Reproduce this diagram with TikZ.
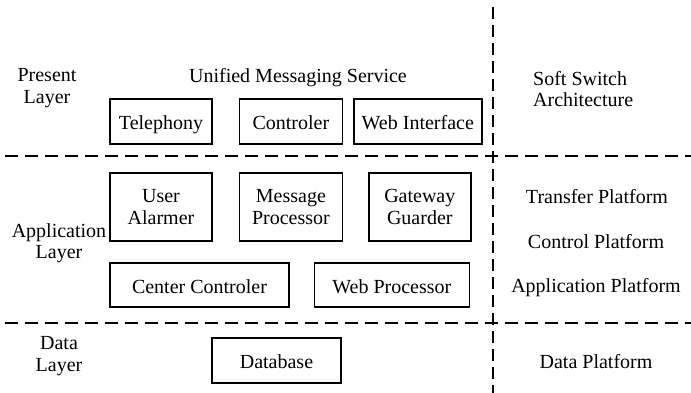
\documentclass[tikz,border=0pt]{standalone}
\usepackage{fontspec}
\setmainfont{Liberation Serif}
\usetikzlibrary{positioning}

\begin{document}
\begin{tikzpicture}[x=1pt,y=-1pt,font=\fontsize{20}{21.5}\selectfont]
 \tikzstyle{every node}=[align=center,inner sep=0pt]
 \tikzstyle{module}=[draw,line width=1.4pt,minimum height=45pt]
 \tikzstyle{oneline}=[text height=18pt,text depth=2pt]
 \tikzstyle{divider}=[line width=1.7pt,dash pattern=on 13pt off 7pt]
\useasboundingbox (0,0) rectangle (691,393);

% layer borders
\coordinate (h1a) at (5,156);   \coordinate (h1b) at (691,156);
\coordinate (h2a) at (5,323);   \coordinate (h2b) at (691,323);
\coordinate (vt) at (493,7);    \coordinate (vb) at (493,393);
\draw[divider] (h1a) -- (h1b);
\draw[divider] (h2a) -- (h2b);
\draw[divider,dash pattern=on 12pt off 6pt] (vt) -- (vb);

% present layer
\node (pl) at (47,88) {Present\\Layer};
\node (ums) at (298,78) {Unified Messaging Service};
\node[module,oneline,minimum width=102pt] (tel) at (161,121.5) {Telephony};
\node[module,oneline,minimum width=103pt] (ctl) [right=26pt of tel] {Controler};
\node[module,oneline,minimum width=128pt] (wif) [right=10pt of ctl] {Web Interface};
\node[anchor=west,align=left] (ssa) at (533,89) {Soft Switch\\Architecture};

% application layer
\node (al) at (59,243) {Application\\Layer};
\node[module,minimum width=102pt,minimum height=68pt] (usr) at (161,207) {User\\Alarmer};
\node[module,minimum width=103pt,minimum height=68pt] (msg) [right=26pt of usr] {Message\\Processor};
\node[module,minimum width=102pt,minimum height=68pt] (gw) [right=25pt of msg] {Gateway\\Guarder};
\node[module,oneline,minimum width=179pt,minimum height=44pt] (cc) at (199.5,285) {Center Controler};
\node[module,oneline,minimum width=155pt,minimum height=44pt] (wp) [right=24pt of cc] {Web Processor};
\node (tp) at (597,197) {Transfer Platform};
\node (cp) at (596,242) {Control Platform};
\node (ap) at (596,288) {Application Platform};

% data layer
\node (dl) at (59,356) {Data\\Layer};
\node[module,oneline,minimum width=129pt] (db) at (276.5,360.5) {Database};
\node (dp) at (596,362) {Data Platform};

\end{tikzpicture}
\end{document}
